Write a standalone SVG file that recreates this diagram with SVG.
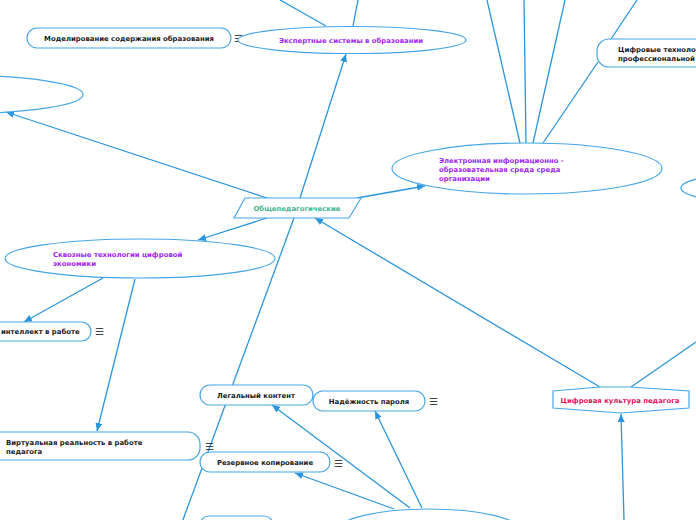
<svg xmlns="http://www.w3.org/2000/svg" width="696" height="520" viewBox="0 0 696 520">
<style>
.c{stroke:#2a95dc;stroke-width:1.3;fill:none}
.a{marker-end:url(#ah)}
.n{fill:#fff;stroke:#46a6e6;stroke-width:1.2}
.t{font-family:"DejaVu Sans",Verdana,sans-serif;font-weight:bold;font-size:6.9px;fill:#1a1a1a}
.p{fill:#a21ff0}
.m{font-family:"DejaVu Sans",sans-serif;font-size:10px;fill:#444}
</style>
<defs>
<marker id="ah" markerUnits="userSpaceOnUse" markerWidth="9" markerHeight="7" refX="8" refY="3.5" orient="auto">
<path d="M0,0 L8,3.5 L0,7 Z" fill="#2a95dc"/>
</marker>
</defs>
<rect width="696" height="520" fill="#fff"/>
<g id="connectors">
<line class="c" x1="280" y1="0" x2="326" y2="26"/>
<line class="c" x1="358" y1="0" x2="353" y2="26"/>
<line class="c a" x1="300" y1="198" x2="346" y2="54"/>
<line class="c a" x1="267" y1="198" x2="6" y2="112"/>
<line class="c a" x1="357" y1="198" x2="425" y2="186"/>
<line class="c a" x1="267" y1="218" x2="198" y2="240"/>
<line class="c" x1="294" y1="218" x2="180" y2="528"/>
<line class="c a" x1="600" y1="387" x2="315" y2="218"/>
<line class="c" x1="487" y1="0" x2="520" y2="143"/>
<line class="c" x1="524" y1="0" x2="526" y2="143"/>
<line class="c" x1="565" y1="0" x2="533" y2="143"/>
<line class="c" x1="598" y1="62" x2="543" y2="143"/>
<line class="c" x1="637" y1="0" x2="611" y2="39"/>
<line class="c" x1="696" y1="342" x2="631" y2="387"/>
<line class="c a" x1="624" y1="520" x2="621" y2="414"/>
<line class="c a" x1="103" y1="278" x2="24" y2="322"/>
<line class="c a" x1="135" y1="279" x2="97" y2="431"/>
<line class="c a" x1="410" y1="508" x2="272" y2="405"/>
<line class="c a" x1="394" y1="509" x2="295" y2="473"/>
<line class="c a" x1="422" y1="508" x2="375" y2="411"/>
</g>
<g id="n-left-ellipse"><ellipse class="n" cx="-39" cy="94.5" rx="122" ry="19"/></g>
<g id="n-model">
<rect class="n" x="27" y="28" width="204" height="20" rx="10"/>
<text class="t" x="129" y="40.5" text-anchor="middle">Моделирование содержания образования</text>
<text class="m" x="234" y="42">☰</text>
</g>
<g id="n-expert">
<ellipse class="n" cx="352" cy="40" rx="114" ry="13.5"/>
<text class="t p" x="351" y="43" text-anchor="middle">Экспертные системы в образовании</text>
</g>
<g id="n-obshche">
<path class="n" d="M245,198 L361,198 L349,218 L234,218 Z"/>
<text class="t" x="297" y="211" text-anchor="middle" style="fill:#45b593">Общепедагогические</text>
</g>
<g id="n-eios">
<ellipse class="n" cx="527" cy="168.5" rx="135" ry="25.5"/>
<text class="t p" x="439" y="163">Электронная информационно -</text>
<text class="t p" x="439" y="172">образовательная среда среда</text>
<text class="t p" x="439" y="181">организации</text>
</g>
<g id="n-cifr-tech">
<rect class="n" x="597" y="39" width="140" height="28" rx="12"/>
<text class="t" x="618" y="51.5">Цифровые техноло</text>
<text class="t" x="618" y="60.5">профессиональной</text>
</g>
<g id="n-right-ellipse"><ellipse class="n" cx="760" cy="188" rx="79" ry="15"/></g>
<g id="n-kultura">
<path class="n" d="M553,391 L600,387 L630,387 L689,391 L689,408 L621,413 L553,408 Z"/>
<text class="t" x="620" y="403" text-anchor="middle" style="fill:#e3125c">Цифровая культура педагога</text>
</g>
<g id="n-skvoznye">
<ellipse class="n" cx="140" cy="258.5" rx="135" ry="19.5"/>
<text class="t p" x="53" y="257">Сквозные технологии цифровой</text>
<text class="t p" x="53" y="266">экономики</text>
</g>
<g id="n-ii">
<rect class="n" x="-60" y="322" width="151" height="19" rx="9.5"/>
<text class="t" x="1" y="334">интеллект в работе</text>
<text class="m" x="95" y="335">☰</text>
</g>
<g id="n-vr">
<rect class="n" x="-20" y="432" width="220" height="28" rx="12"/>
<text class="t" x="6" y="445">Виртуальная реальность в работе</text>
<text class="t" x="6" y="454">педагога</text>
<text class="m" x="205" y="450">☰</text>
</g>
<g id="n-legal">
<rect class="n" x="200" y="385" width="113" height="20" rx="10"/>
<text class="t" x="256" y="398" text-anchor="middle">Легальный контент</text>
<text class="m" x="317" y="399">☰</text>
</g>
<g id="n-parol">
<rect class="n" x="313" y="391" width="112" height="20" rx="10"/>
<text class="t" x="369" y="403.5" text-anchor="middle">Надёжность пароля</text>
<text class="m" x="429" y="405">☰</text>
</g>
<g id="n-rezerv">
<rect class="n" x="200" y="452" width="130" height="20" rx="10"/>
<text class="t" x="265" y="465" text-anchor="middle">Резервное копирование</text>
<text class="m" x="334" y="467">☰</text>
</g>
<g id="n-bottom-rect"><rect class="n" x="200" y="516" width="73" height="20" rx="9"/></g>
<g id="n-bottom-ellipse"><ellipse class="n" cx="429" cy="531" rx="92" ry="22"/></g>
</svg>
